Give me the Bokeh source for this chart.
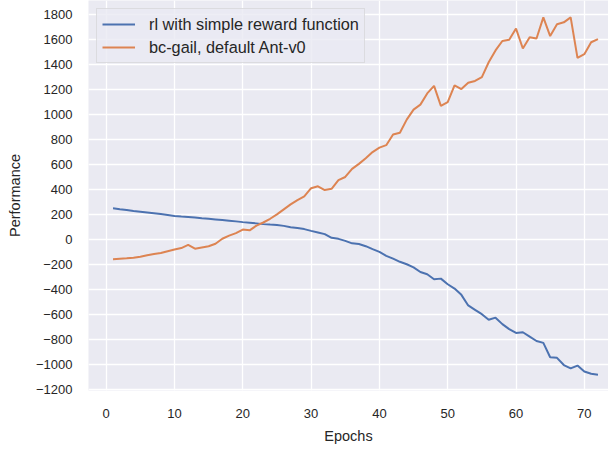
from bokeh.plotting import figure
from bokeh.models import Range1d, FixedTicker, CustomJSTickFormatter, Legend, LegendItem
from bokeh.embed import file_html
from bokeh.resources import INLINE

epochs = list(range(1, 73))

rl_simple = [250, 242, 235, 228, 222, 216, 210, 203, 196, 188,
             183, 180, 176, 170, 165, 160, 155, 150, 144, 138,
             133, 128, 122, 118, 115, 108, 97, 90, 82, 68,
             55, 42, 12, 4, -12, -32, -38, -55, -78, -100,
             -132, -155, -180, -200, -225, -262, -280, -320, -315, -360,
             -395, -445, -530, -565, -600, -645, -628, -680, -720, -750,
             -745, -780, -815, -830, -945, -950, -1008, -1035, -1012, -1060,
             -1078, -1085]

bc_gail = [-160, -155, -152, -148, -140, -128, -118, -110, -95, -82,
           -70, -45, -75, -65, -55, -35, 5, 30, 50, 78,
           72, 110, 135, 165, 200, 240, 280, 315, 345, 410,
           425, 395, 405, 475, 500, 565, 605, 650, 700, 735,
           755, 840, 855, 960, 1040, 1080, 1170, 1230, 1070, 1100,
           1235, 1205, 1255, 1270, 1300, 1420, 1515, 1590, 1600, 1690,
           1530, 1620, 1610, 1780, 1630, 1725, 1740, 1780, 1455, 1485,
           1580, 1605]

x_ticks = [0, 10, 20, 30, 40, 50, 60, 70]
y_ticks = list(range(-1200, 1801, 200))

FONT = "Liberation Sans"
TXT = "#262626"

p = figure(width=608, height=446, output_backend="svg", toolbar_location=None,
           x_range=Range1d(-2.59, 73.54), y_range=Range1d(-1212, 1915),
           min_border_left=88, min_border_right=0, min_border_top=0, min_border_bottom=52)

p.background_fill_color = "#eaeaf2"
p.border_fill_color = "white"
p.outline_line_color = None

r1 = p.line(epochs, rl_simple, line_color="#4c72b0", line_width=2)
r2 = p.line(epochs, bc_gail, line_color="#dd8452", line_width=2)

for g in (p.xgrid[0], p.ygrid[0]):
    g.grid_line_color = "white"
    g.grid_line_width = 1.3

p.xaxis.ticker = FixedTicker(ticks=x_ticks)
p.yaxis.ticker = FixedTicker(ticks=y_ticks)
p.yaxis.formatter = CustomJSTickFormatter(
    code="return tick < 0 ? '\u2212' + Math.abs(tick) : String(tick);")

for ax in (p.xaxis[0], p.yaxis[0]):
    ax.axis_line_color = None
    ax.major_tick_line_color = None
    ax.minor_tick_line_color = None
    ax.major_label_text_font = FONT
    ax.major_label_text_font_size = "13px"
    ax.major_label_text_color = TXT
    ax.axis_label_text_font = FONT
    ax.axis_label_text_font_size = "14.5px"
    ax.axis_label_text_font_style = "normal"
    ax.axis_label_text_color = TXT

p.xaxis.axis_label = "Epochs"
p.yaxis.axis_label = "Performance"
p.xaxis.major_label_standoff = 12
p.xaxis.axis_label_standoff = 7
p.yaxis.major_label_standoff = 10
p.yaxis.axis_label_standoff = 10

legend = Legend(items=[LegendItem(label="rl with simple reward function", renderers=[r1]),
                       LegendItem(label="bc-gail, default Ant-v0", renderers=[r2])],
                location="top_left")
legend.label_text_font = FONT
legend.label_text_font_size = "16.3px"
legend.label_text_color = TXT
legend.label_height = 20
legend.glyph_height = 20
legend.glyph_width = 33
legend.label_standoff = 14
legend.padding = 5
legend.spacing = 3
legend.margin = 8
legend.background_fill_color = "#eaeaf2"
legend.background_fill_alpha = 0.8
legend.border_line_color = "#cccccc"
legend.border_line_width = 1
p.add_layout(legend)

open("out.html", "w").write(file_html(p, INLINE))
